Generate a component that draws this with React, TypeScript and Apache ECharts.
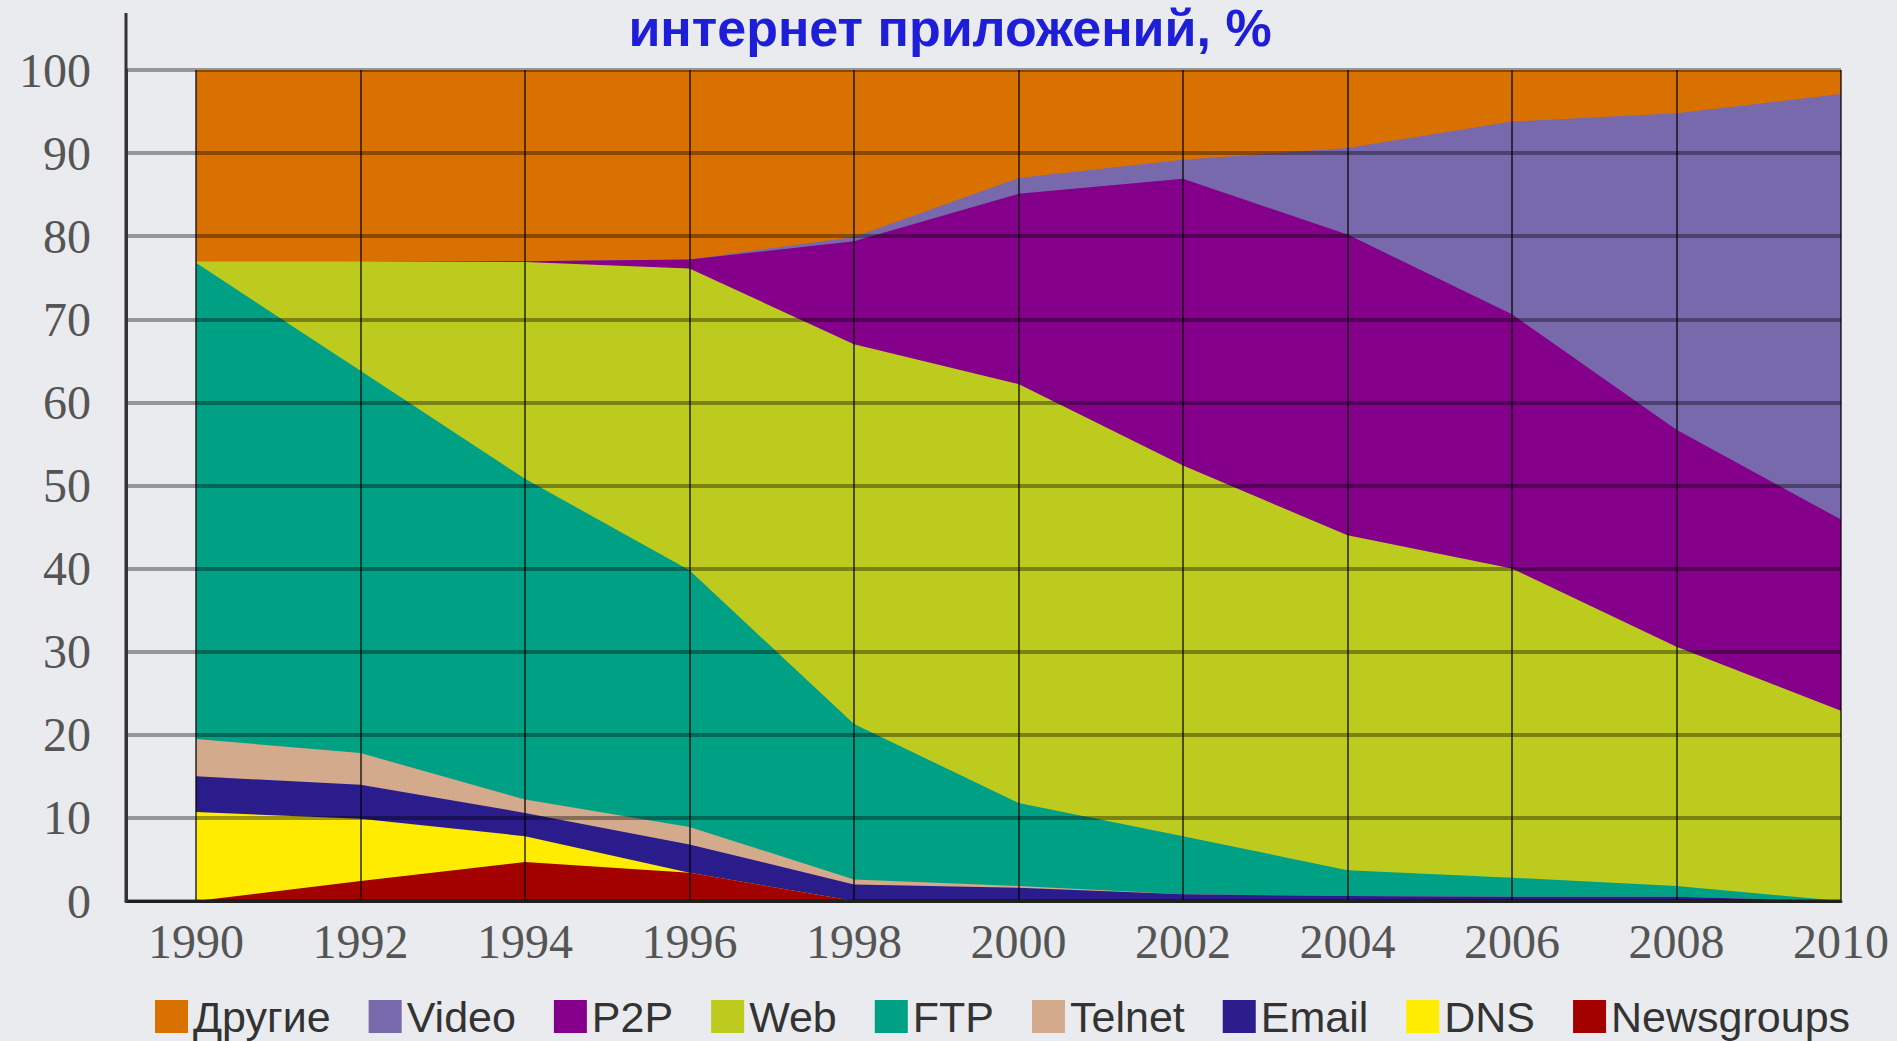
import React, { useEffect, useRef } from "react";
import * as echarts from "echarts";

const years = [1990, 1992, 1994, 1996, 1998, 2000, 2002, 2004, 2006, 2008, 2010];

const newsgroups = [0, 2.4, 4.7, 3.4, 0, 0, 0, 0, 0, 0, 0];
const dns = [10.7, 7.5, 3.1, 0, 0, 0, 0, 0, 0, 0, 0];
const email = [4.3, 4.1, 2.8, 3.4, 2.0, 1.6, 0.8, 0.6, 0.5, 0.5, 0];
const telnet = [4.5, 3.8, 1.6, 2.1, 0.6, 0.2, 0, 0, 0, 0, 0];
const ftp = [57.3, 46.0, 38.6, 30.9, 18.7, 10.0, 7.0, 3.1, 2.3, 1.3, 0];
const web = [0.2, 13.2, 26.1, 36.3, 45.7, 50.4, 44.6, 40.3, 37.2, 28.8, 22.9];
const p2p = [0, 0, 0.1, 1.1, 12.4, 22.9, 34.5, 36.2, 30.6, 26.1, 23.0];
const video = [0, 0, 0, 0, 0.5, 1.9, 2.3, 10.4, 23.2, 38.1, 51.2];
const other = [23, 23, 23, 22.8, 20.1, 13, 10.8, 9.4, 6.2, 5.2, 2.9];

const legendOrder = ["Другие", "Video", "P2P", "Web", "FTP", "Telnet", "Email", "DNS", "Newsgroups"];

const titleText = "интернет приложений, %";

// bottom -> top stacking order
const seriesDefs = [
  { name: "Newsgroups", values: newsgroups, color: "#a30000" },
  { name: "DNS", values: dns, color: "#ffec00" },
  { name: "Email", values: email, color: "#2b1c8c" },
  { name: "Telnet", values: telnet, color: "#d3aa8c" },
  { name: "FTP", values: ftp, color: "#00a085" },
  { name: "Web", values: web, color: "#bdcb1e" },
  { name: "P2P", values: p2p, color: "#85008a" },
  { name: "Video", values: video, color: "#7868ac" },
  { name: "Другие", values: other, color: "#d97100" },
];

export default function App() {
  const ref = useRef<HTMLDivElement>(null);
  useEffect(() => {
    document.body.style.margin = "0";
    document.body.style.background = "#e9ebee";
    if (!ref.current) return;
    const chart = echarts.init(ref.current, null, { renderer: "svg" });
    const gridLeft = 126;
    const gridRight = 56;
    const gridTop = 70;
    const gridBottom = 140;
    const plotWidth = 1897 - gridLeft - gridRight;
    const pxPerYear = (1841 - 196) / 20;
    const xMin = 2010 - plotWidth / pxPerYear;

    // cumulative tops (stack built for the library)
    const running = years.map(() => 0);
    const stacked = seriesDefs.map((s) => {
      const tops = s.values.map((v, i) => {
        running[i] += v;
        return Math.round(running[i] * 100) / 100;
      });
      return { ...s, tops };
    });
    // draw top layer first so lower layers paint over it
    const drawOrder = stacked.slice().reverse();

    chart.setOption({
      animation: false,
      backgroundColor: "#e9ebee",
      graphic: [
        {
          type: "text",
          x: 950,
          y: 2,
          z: 10,
          style: {
            text: titleText,
            fill: "#1e1ed8",
            font: "bold 52px 'Liberation Sans', Arial, sans-serif",
            align: "center",
            verticalAlign: "top",
          },
        },
        {
          type: "line",
          z: 10,
          shape: { x1: gridLeft, y1: 13, x2: gridLeft, y2: 1041 - gridBottom + 1 },
          style: { stroke: "#333333", lineWidth: 3 },
        },
      ],
      legend: {
        data: legendOrder,
        left: 155,
        top: 995,
        itemWidth: 33,
        itemHeight: 33,
        itemGap: 38,
        icon: "rect",
        padding: 0,
        textStyle: {
          fontFamily: "'Liberation Sans', Arial, sans-serif",
          fontSize: 43,
          color: "#333333",
        },
      },
      grid: { left: gridLeft, right: gridRight, top: gridTop, bottom: gridBottom, containLabel: false },
      xAxis: {
        type: "value",
        min: xMin,
        max: 2010,
        splitNumber: 10,
        minInterval: 2,
        maxInterval: 2,
        z: 5,
        axisLine: { show: true, onZero: false, lineStyle: { color: "#333333", width: 3 } },
        axisTick: { show: false },
        axisLabel: {
          showMinLabel: false,
          formatter: (v: number) => (Math.abs(v - Math.round(v)) < 1e-6 ? String(Math.round(v)) : ""),
          fontFamily: "'Liberation Serif', 'Times New Roman', serif",
          fontSize: 48,
          color: "#555555",
          margin: 16,
        },
        splitLine: { show: true, lineStyle: { color: "rgba(0,0,0,0.62)", width: 2 } },
      },
      yAxis: {
        type: "value",
        min: 0,
        max: 100,
        interval: 10,
        z: 6,
        axisLine: {
          show: true,
          onZero: false,
          lineStyle: { color: "#333333", width: 3 },
        },
        axisTick: { show: false },
        axisLabel: {
          fontFamily: "'Liberation Serif', 'Times New Roman', serif",
          fontSize: 48,
          color: "#555555",
          margin: 35,
        },
        splitLine: { show: true, lineStyle: { color: "rgba(0,0,0,0.36)", width: 4 } },
      },
      series: drawOrder.map((s) => ({
        name: s.name,
        type: "line",
        z: 1,
        data: years.map((y, i) => [y, s.tops[i]]),
        showSymbol: false,
        symbol: "none",
        lineStyle: { width: 0, color: s.color },
        itemStyle: { color: s.color },
        areaStyle: { color: s.color, opacity: 1, origin: "start" },
        emphasis: { disabled: true },
      })),
    });
    return () => chart.dispose();
  }, []);
  return <div ref={ref} style={{ width: 1897, height: 1041 }} />;
}
